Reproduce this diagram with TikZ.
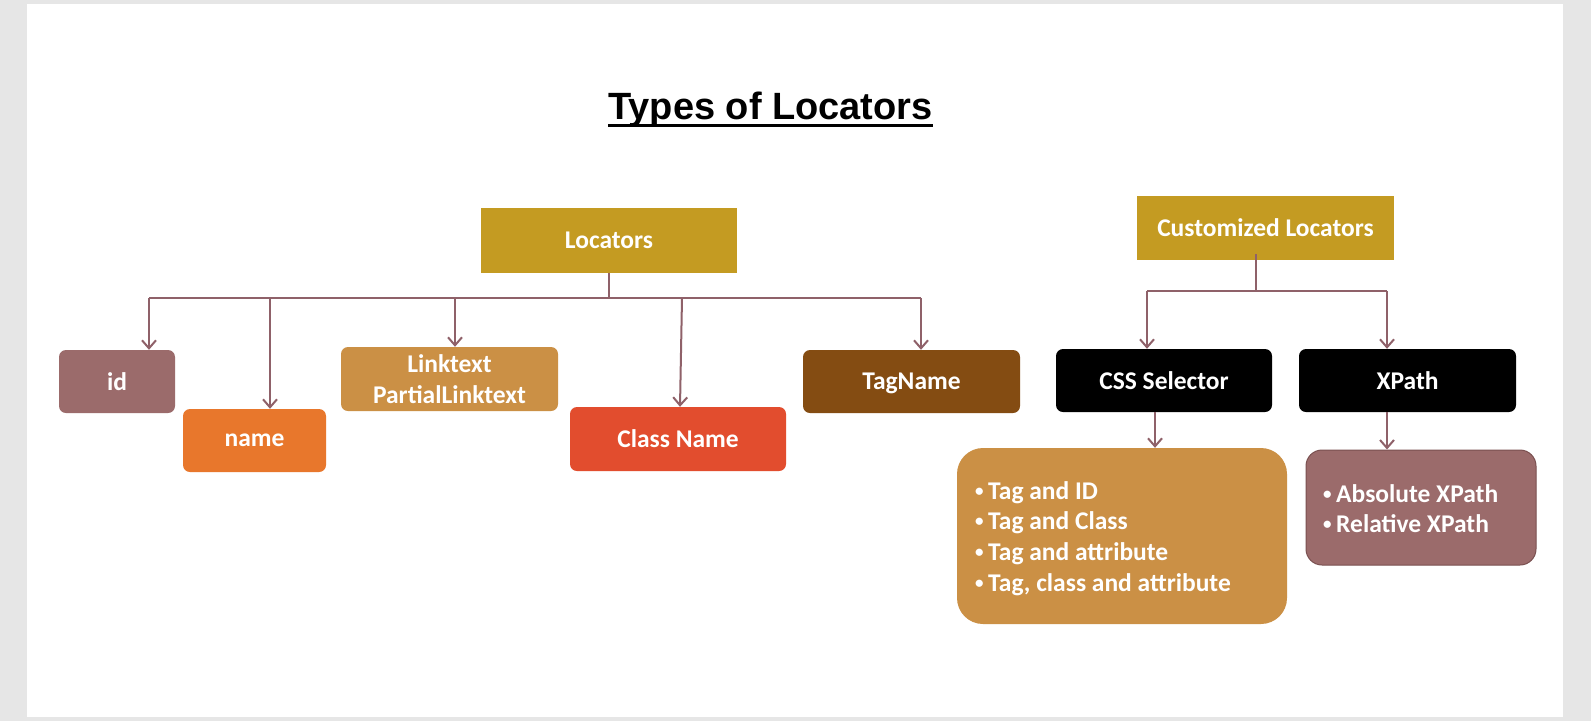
\documentclass[tikz,border=0pt]{standalone}
\usepackage{fontspec}
\setmainfont{Carlito}
\newfontfamily\titlefont{Liberation Sans}
\usetikzlibrary{arrows.meta}
\definecolor{pagegrey}{HTML}{E6E6E6}
\definecolor{goldc}{HTML}{C49B22}
\definecolor{mauvec}{HTML}{9B6B6B}
\definecolor{mauveline}{HTML}{8F6169}
\definecolor{orangec}{HTML}{E8772C}
\definecolor{tanc}{HTML}{CB9045}
\definecolor{redc}{HTML}{E24D2E}
\definecolor{brownc}{HTML}{844C12}
\definecolor{xborder}{HTML}{7A5050}
\newcommand{\mybul}{\makebox[13pt][l]{\raisebox{0.12em}{\fontsize{17}{17}\selectfont •}}}
\tikzset{
  box/.style={rectangle, rounded corners=7pt, text=white, font=\bfseries\fontsize{25.5}{32}\selectfont, align=center, inner sep=0pt},
  sqbox/.style={rectangle, text=white, font=\bfseries\fontsize{25.5}{32}\selectfont, align=center, inner sep=0pt},
  listtext/.style={anchor=north west, text=white, font=\bfseries\fontsize{25.5}{30.8}\selectfont, align=left, inner sep=0pt},
  conn/.style={draw=mauveline, line width=2pt},
  arr/.style={conn, -{Straight Barb[length=8pt,width=14pt,line width=2pt]}},
}
\begin{document}
\begin{tikzpicture}[x=1pt,y=-1pt]
\useasboundingbox (0,0) rectangle (1591,721);
\fill[pagegrey] (0,0) rectangle (1591,721);
\fill[white] (27,4) rectangle (1563,717);
% title
\node[anchor=base, font=\titlefont\bfseries\fontsize{38}{44}\selectfont, inner sep=0pt] (title) at (770.5,119) {Types of Locators};
\draw[line width=3pt] (title.west |- 0,125) -- (title.east |- 0,125);
% left tree
\node[sqbox, fill=goldc, minimum width=256pt, minimum height=65pt] (loc) at (609,240.5) {Locators};
\node[box, fill=mauvec, minimum width=116pt, minimum height=63pt] (id) at (117,381.5) {id};
\node[box, fill=orangec, minimum width=143pt, minimum height=63pt] (name) at (254.5,440.5) {name};
\node[box, fill=tanc, minimum width=217pt, minimum height=64pt] (link) at (449.5,379) {Linktext\\[-1pt]PartialLinktext};
\node[box, fill=redc, minimum width=216pt, minimum height=64pt] (cls) at (678,439) {Class Name};
\node[box, fill=brownc, minimum width=217pt, minimum height=63pt, text depth=0pt] (tag) at (911.5,381.5) {TagName};
\coordinate (busL) at (149,298);
\coordinate (busR) at (921,298);
\coordinate (busM) at (609,298);
\draw[conn] (loc.south) -- (busM);
\draw[conn] (busL) -- (busR);
\draw[arr] (busL) -- (id.north -| busL);
\coordinate (bn) at (270,298);
\draw[arr] (bn) -- (name.north -| bn);
\coordinate (bl) at (455,298);
\draw[arr] (bl) -- (link.north -| bl);
\coordinate (bc) at (682,298);
\draw[arr] (bc) -- ([xshift=2pt]cls.north);
\draw[arr] (busR) -- (tag.north -| busR);
% right tree
\node[sqbox, fill=goldc, minimum width=257pt, minimum height=64pt] (cust) at (1265.5,228) {Customized Locators};
\node[box, fill=black, minimum width=216pt, minimum height=63pt] (css) at (1164,380.5) {CSS Selector};
\node[box, fill=black, minimum width=217pt, minimum height=63pt] (xp) at (1407.5,380.5) {XPath};
\node[rectangle, rounded corners=26pt, fill=tanc, minimum width=330pt, minimum height=176pt, inner sep=0pt] (csslist) at (1122,536) {};
\node[listtext] (csstext) at (975,481) {\mybul Tag and ID\\\mybul Tag and Class\\\mybul Tag and attribute\\\mybul Tag, class and attribute};
\node[rectangle, rounded corners=16pt, fill=mauvec, draw=xborder, line width=1pt, minimum width=230pt, minimum height=115pt, inner sep=0pt] (xplist) at (1421,507.5) {};
\node[listtext] (xptext) at (1323,484) {\mybul Absolute XPath\\\mybul Relative XPath};
\coordinate (cm) at (1256,291);
\coordinate (cl) at (1147,291);
\coordinate (cr) at (1387,291);
\draw[conn] ([yshift=6pt]cust.south -| cm) -- (cm);
\draw[conn] (cl) -- (cr);
\draw[arr] (cl) -- (css.north -| cl);
\draw[arr] (cr) -- (xp.north -| cr);
\coordinate (cs) at (1155,0);
\draw[arr] (css.south -| cs) -- (csslist.north -| cs);
\draw[arr] (xp.south -| cr) -- (xplist.north -| cr);
\end{tikzpicture}
\end{document}
